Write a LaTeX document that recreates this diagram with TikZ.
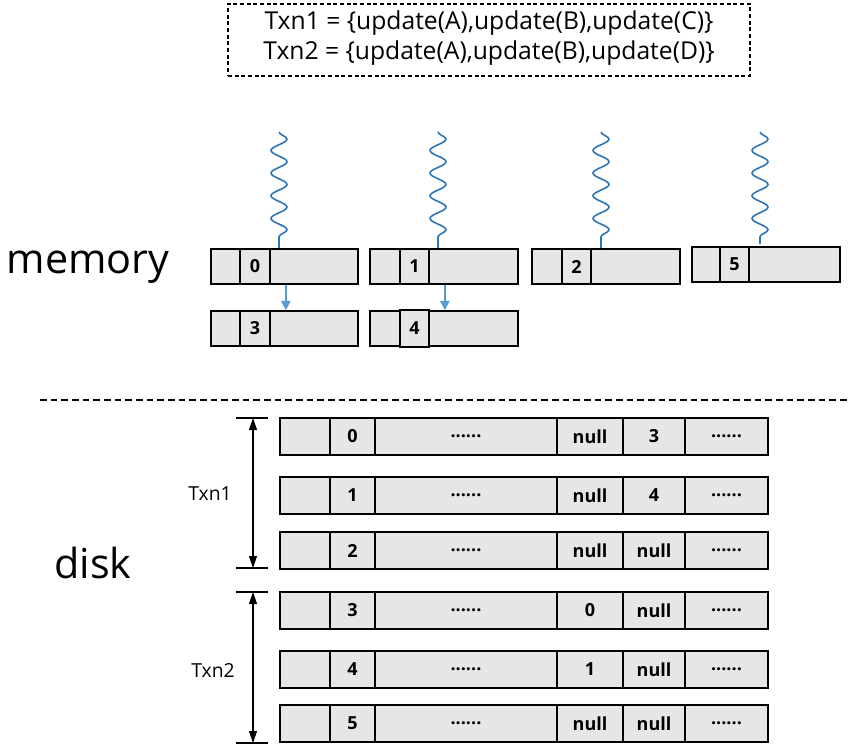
\documentclass[tikz,border=0pt]{standalone}
\usepackage{fontspec}
\setmainfont{Open Sans}
\usetikzlibrary{decorations.pathmorphing,calc,arrows.meta,fit}
\definecolor{boxgray}{HTML}{E7E6E6}
\definecolor{wavec}{HTML}{2E75B6}
\definecolor{arrc}{HTML}{5B9BD5}
\tikzset{
  cellbox/.style={draw, fill=boxgray, line width=1.3pt, inner sep=0pt},
  celltext/.style={font=\fontsize{13.5}{15}\selectfont\bfseries, inner sep=0pt},
  wavy/.style={draw=wavec, line width=1.2pt, decorate, decoration={snake, segment length=17pt, amplitude=6pt}},
  ptr/.style={draw=arrc, line width=1.5pt, -{Triangle[length=7pt,width=7pt]}},
  span/.style={draw=black, line width=0.9pt, {Triangle[length=9pt,width=6pt]}-{Triangle[length=9pt,width=6pt]}},
  tick/.style={draw=black, line width=0.9pt},
  biglabel/.style={font=\fontsize{31}{36}\selectfont, anchor=base},
  txnlabel/.style={font=\fontsize{14.5}{17}\selectfont}
}
\newcommand{\cellat}[2]{\node[celltext] at (#1.center) {#2};}
\begin{document}
\begin{tikzpicture}[x=0.75pt,y=-0.75pt]
\useasboundingbox (0,0) rectangle (850,754);

% header box
\node[draw, dash pattern=on 3pt off 2pt, line width=0.8pt, inner sep=0pt, fit={(228,4) (750,76)}] (hdr) {};
\node[align=center, font=\fontsize{18.5}{22.5}\selectfont] (hdrtext) at (489,38) {Txn1 = \{update(A),update(B),update(C)\}\\Txn2 = \{update(A),update(B),update(D)\}};

% big labels
\node[biglabel] (memlbl) at (88,273) {memory};
\node[biglabel] (disklbl) at (93,578) {disk};

% memory boxes
\node[cellbox, fit={(211,249) (358,284)}] (m0) {};
\node[cellbox, fit={(240,249) (270,284)}] (c0) {};
\node[cellbox, fit={(370,249) (518,284)}] (m1) {};
\node[cellbox, fit={(400,249) (429,284)}] (c1) {};
\node[cellbox, fit={(532,249) (680,284)}] (m2) {};
\node[cellbox, fit={(562,249) (591,284)}] (c2) {};
\node[cellbox, fit={(692,247) (840,282)}] (m5) {};
\node[cellbox, fit={(720,247) (749,282)}] (c5) {};
\node[cellbox, fit={(211,311) (358,346)}] (m3) {};
\node[cellbox, fit={(240,311) (270,346)}] (c3) {};
\node[cellbox, fit={(370,311) (518,346)}] (m4) {};
\node[cellbox, fit={(400,310) (429,347)}] (c4) {};
\cellat{c0}{0}
\cellat{c1}{1}
\cellat{c2}{2}
\cellat{c5}{5}
\cellat{c3}{3}
\cellat{c4}{4}

% wavy lines
\coordinate (w0) at (279,132);
\coordinate (w1) at (438,132);
\coordinate (w2) at (601,132);
\coordinate (w5) at (760,132);
\draw[wavy] (w0) -- (w0 |- m0.north);
\draw[wavy] (w1) -- (w1 |- m1.north);
\draw[wavy] (w2) -- (w2 |- m2.north);
\draw[wavy] (w5) -- ($(w5 |- m5.north)+(0,-2)$);

% pointer arrows
\coordinate (p0) at ($(c0.south east)+(15,0)$);
\coordinate (p1) at ($(c1.south east)+(15,0)$);
\draw[ptr] (p0) -- (p0 |- m3.north);
\draw[ptr] (p1) -- (p1 |- m4.north);

% separator
\coordinate (sepL) at (40,400);
\coordinate (sepR) at (848,400);
\draw[line width=1.1pt, dash pattern=on 5pt off 3pt] (sepL) -- (sepR);

% disk rows
\foreach \r/\y/\id/\pv/\nx in {0/418/0/null/3, 1/477/1/null/4, 2/532/2/null/null, 3/592/3/0/null, 4/651/4/1/null, 5/705/5/null/null}{
  \node[cellbox, fit={(280,\y) (330,{\y+37})}] (d\r a) {};
  \node[cellbox, fit={(330,\y) (375,{\y+37})}] (d\r b) {};
  \node[cellbox, fit={(375,\y) (557,{\y+37})}] (d\r c) {};
  \node[cellbox, fit={(557,\y) (623,{\y+37})}] (d\r d) {};
  \node[cellbox, fit={(623,\y) (685,{\y+37})}] (d\r e) {};
  \node[cellbox, fit={(685,\y) (768,{\y+37})}] (d\r f) {};
  \cellat{d\r b}{\id}
  \cellat{d\r c}{......}
  \cellat{d\r d}{\pv}
  \cellat{d\r e}{\nx}
  \cellat{d\r f}{......}
}

% spans
\coordinate (t1a) at (253,418);
\coordinate (t1b) at (253,568);
\coordinate (t2a) at (253,592);
\coordinate (t2b) at (253,743);
\draw[tick] ($(t1a)+(-17,0)$) -- ($(t1a)+(15,0)$);
\draw[tick] ($(t1b)+(-17,0)$) -- ($(t1b)+(15,0)$);
\draw[tick] ($(t2a)+(-17,0)$) -- ($(t2a)+(15,0)$);
\draw[tick] ($(t2b)+(-17,0)$) -- ($(t2b)+(15,0)$);
\draw[span] (t1a) -- (t1b);
\draw[span] (t2a) -- (t2b);
\node[txnlabel] (txn1) at (210,494) {Txn1};
\node[txnlabel] (txn2) at (213,670) {Txn2};
\end{tikzpicture}
\end{document}
